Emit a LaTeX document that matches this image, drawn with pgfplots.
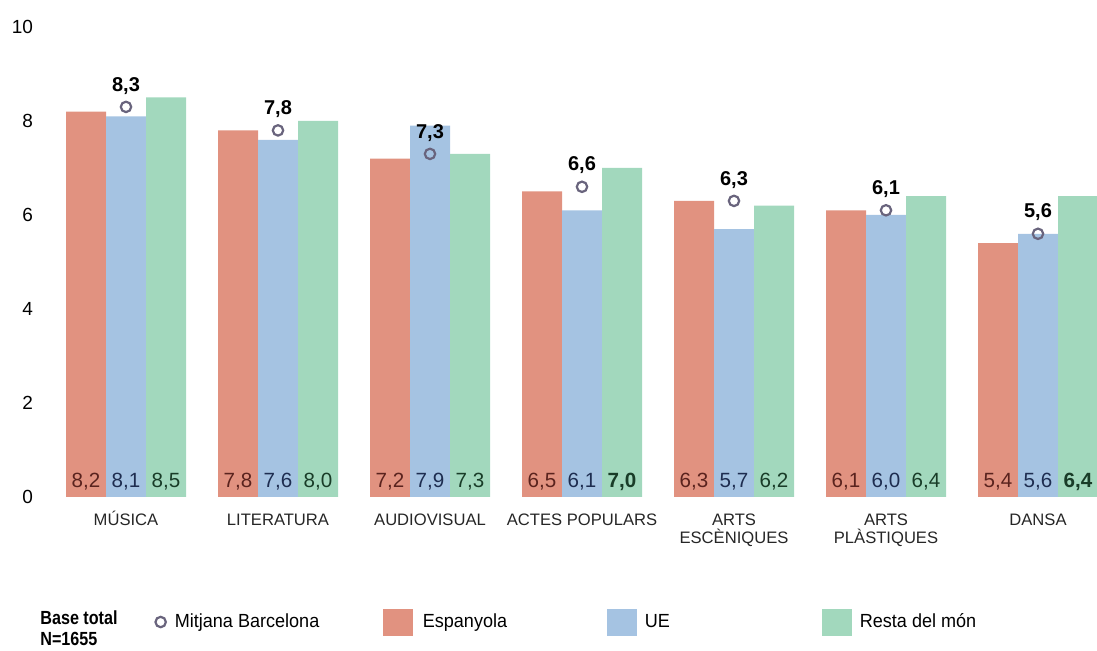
\documentclass[border=0pt]{standalone}
\usepackage{pgfplots}
\pgfplotsset{compat=1.18}
\usepackage{pgfplotstable}
\usepackage{fontspec}
\setmainfont{Liberation Sans}
\newfontfamily\narrow[FakeStretch=0.95]{Liberation Sans}
\newfontfamily\narrowb[FakeStretch=0.85]{Liberation Sans}

\definecolor{esp}{RGB}{225,146,128}
\definecolor{ue}{RGB}{165,195,226}
\definecolor{resta}{RGB}{162,216,189}
\definecolor{espt}{RGB}{90,35,30}
\definecolor{uet}{RGB}{30,45,80}
\definecolor{restat}{RGB}{25,60,40}
\definecolor{bcn}{RGB}{105,100,125}

% x y label
\pgfplotstableread{
x y label
0 8.2 8,2
1 7.8 7,8
2 7.2 7,2
3 6.5 6,5
4 6.3 6,3
5 6.1 6,1
6 5.4 5,4
}\espanyola
\pgfplotstableread{
x y label
0 8.1 8,1
1 7.6 7,6
2 7.9 7,9
3 6.1 6,1
4 5.7 5,7
5 6.0 6,0
6 5.6 5,6
}\ue
\pgfplotstableread{
x y label
0 8.5 8,5
1 8.0 8,0
2 7.3 7,3
3 7.0 \textbf{7,0}
4 6.2 6,2
5 6.4 6,4
6 6.4 \textbf{6,4}
}\resta
\pgfplotstableread{
x y label
0 8.3 8,3
1 7.8 7,8
2 7.3 7,3
3 6.6 6,6
4 6.3 6,3
5 6.1 6,1
6 5.6 5,6
}\bcn

\begin{document}
\begin{tikzpicture}
\begin{axis}[
name=ax,
at={(0,0)}, anchor=south west,
scale only axis,
width=524.4pt, height=235pt,
xmin=-0.5, xmax=6.4,
ymin=0, ymax=10,
clip=false,
axis line style={draw=none},
major tick length=0pt,
ytick={0,2,4,6,8,10},
yticklabel style={font=\fontsize{9.5}{11}\selectfont, xshift=-5pt},
/pgf/number format/assume math mode=true,
xtick={0,...,6},
xticklabels={MÚSICA,LITERATURA\vphantom{Ú},AUDIOVISUAL\vphantom{Ú},ACTES POPULARS\vphantom{Ú},ARTS\vphantom{Ú}\\ESCÈNIQUES,ARTS\vphantom{Ú}\\PLÀSTIQUES,DANSA\vphantom{Ú}},
xticklabel style={font=\fontsize{8.3}{9}\selectfont, align=center, anchor=north, yshift=-3.5pt, color=black!85},
bar width=20pt,
every node near coord/.append style={font=\fontsize{10.3}{12}\selectfont},
legend columns=4,
legend style={draw=none, at={(0.0934,-0.266)}, anchor=west,
  nodes={inner sep=0pt, anchor=west}, font=\narrow\fontsize{9.5}{11}\selectfont},
]
\pgfplotsset{
  inbar/.style 2 args={
    nodes near coords,
    point meta=explicit symbolic,
    visualization depends on={y \as \rawy},
    every node near coord/.append style={anchor=center,
      shift={(axis direction cs:0,-\rawy)}, xshift=#2, yshift=7.5pt, text=#1},
  },
}
\addlegendimage{legend image code/.code={
  \draw[bcn, line width=1.1pt, fill=white] (2.6pt,0) circle (2.6pt);
  \path (9.5pt,0);}}
\addlegendentry{\makebox[104pt][l]{Mitjana Barcelona}}

\addplot[ybar, bar shift=-20pt, fill=esp, draw=none, inbar={espt}{-20pt},
  legend image code/.code={\fill[esp] (0,-6.75pt) rectangle (15pt,6.75pt); \path (20pt,0);}]
  table[x=x, y=y, meta=label] {\espanyola};
\addlegendentry{\makebox[92pt][l]{Espanyola}}

\addplot[ybar, bar shift=0pt, fill=ue, draw=none, inbar={uet}{0pt},
  legend image code/.code={\fill[ue] (0,-6.75pt) rectangle (15pt,6.75pt); \path (19pt,0);}]
  table[x=x, y=y, meta=label] {\ue};
\addlegendentry{\makebox[88.5pt][l]{UE}}

\addplot[ybar, bar shift=20pt, fill=resta, draw=none, inbar={restat}{20pt},
  legend image code/.code={\fill[resta] (0,-6.75pt) rectangle (15pt,6.75pt); \path (19pt,0);}]
  table[x=x, y=y, meta=label] {\resta};
\addlegendentry{Resta del món}

\addplot[only marks, mark=o, mark size=2.6pt, bcn, line width=1.1pt,
  mark options={fill=white},
  nodes near coords, point meta=explicit symbolic,
  every node near coord/.append style={anchor=south, yshift=2.5pt,
    font=\bfseries\fontsize{10}{12}\selectfont, text=black},
  forget plot]
  table[x=x, y=y, meta=label] {\bcn};

\node[anchor=west, align=left, inner sep=0pt, font=\narrowb\bfseries\fontsize{9.5}{10.5}\selectfont]
  at ([xshift=-5pt, yshift=-65.5pt]rel axis cs:0,0) {Base total\\N=1655};
\end{axis}
\pgfresetboundingbox
\useasboundingbox ([xshift=-25pt, yshift=-77pt]ax.south west) rectangle ([xshift=523.5pt, yshift=248.5pt]ax.south west);
\end{tikzpicture}
\end{document}
